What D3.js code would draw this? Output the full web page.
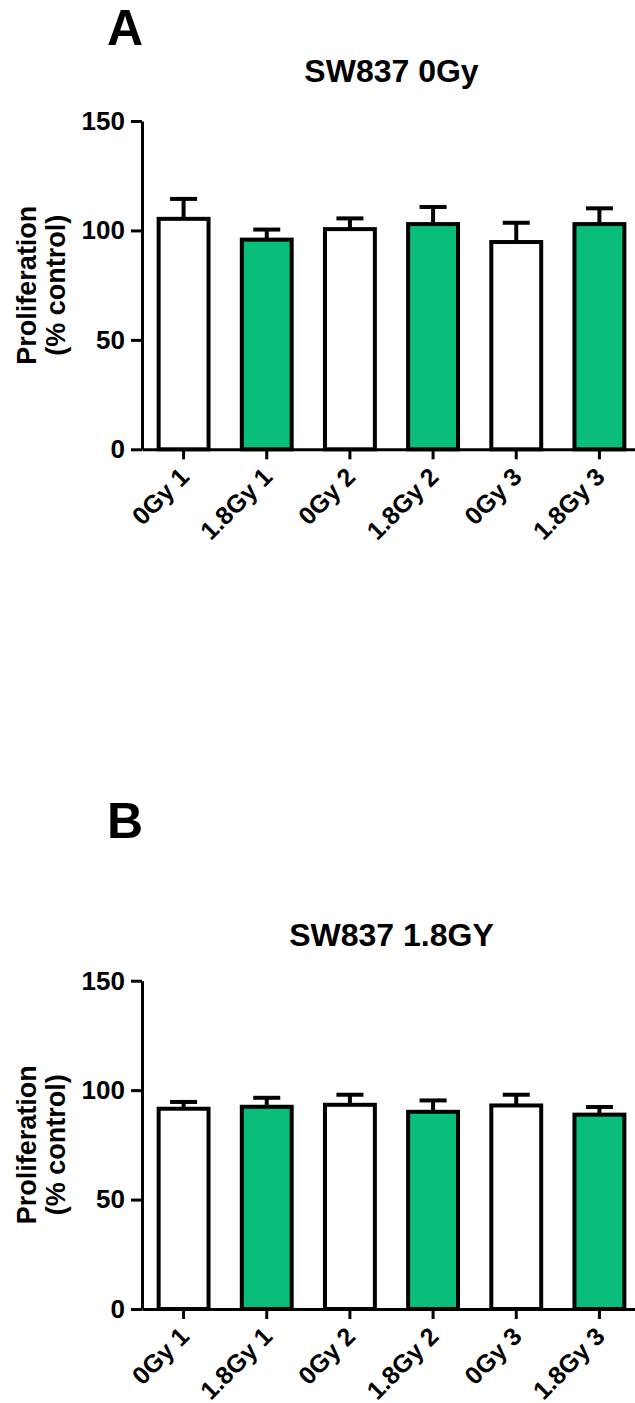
<!DOCTYPE html>
<html>
<head>
<meta charset="utf-8">
<script src="https://cdn.jsdelivr.net/npm/d3@7"></script>
<style>
  body { margin: 0; background: #fff; }
  text { font-family: "Liberation Sans", Arial, sans-serif; font-weight: bold; fill: #000; }
</style>
</head>
<body>
<div class="chart"></div>
<script>
var categories = ["0Gy 1", "1.8Gy 1", "0Gy 2", "1.8Gy 2", "0Gy 3", "1.8Gy 3"];
var fills = ["#ffffff", "#08be7a", "#ffffff", "#08be7a", "#ffffff", "#08be7a"];
var yTicks = [0, 50, 100, 150];

var meansA = [105.3, 95.8, 100.6, 102.9, 94.7, 102.9];
var errorsA = [9.1, 4.6, 4.9, 7.8, 8.8, 7.2];

var meansB = [91.5, 92.4, 93.3, 90.1, 93.0, 88.8];
var errorsB = [3.1, 4.1, 4.6, 5.2, 4.9, 3.5];

var width = 635, height = 1403;
var left = 142, right = 641;

var svg = d3.select('div.chart').append('svg')
    .attr('width', width)
    .attr('height', height);

function drawPanel(opts) {
  var top = opts.top, bottom = opts.top + 328.3;

  var xScale = d3.scaleBand()
      .domain(categories)
      .range([left, right])
      .paddingInner(0.4)
      .paddingOuter(0.2);
  var yScale = d3.scaleLinear()
      .domain([0, 150])
      .range([bottom, top]);

  var g = svg.append('g');

  // panel letter and title
  g.append('text')
    .attr('x', 107)
    .attr('y', opts.letterY)
    .style('font-size', '50px')
    .text(opts.letter);
  g.append('text')
    .attr('x', (left + right) / 2)
    .attr('y', opts.titleY)
    .attr('text-anchor', 'middle')
    .style('font-size', '32px')
    .text(opts.title);

  // bars
  var data = categories.map(function (c, i) {
    return {cat: c, mean: opts.means[i], err: opts.errors[i], fill: fills[i]};
  });

  g.selectAll('rect.bar')
    .data(data)
    .enter()
    .append('rect')
    .attr('class', 'bar')
    .attr('x', function (d) { return xScale(d.cat); })
    .attr('y', function (d) { return yScale(d.mean); })
    .attr('width', xScale.bandwidth())
    .attr('height', function (d) { return yScale(0) - yScale(d.mean); })
    .attr('fill', function (d) { return d.fill; })
    .attr('stroke', '#000')
    .attr('stroke-width', 4);

  // error bars (upper only)
  var capHalf = 13.5;
  g.selectAll('line.err')
    .data(data)
    .enter()
    .append('line')
    .attr('class', 'err')
    .attr('x1', function (d) { return xScale(d.cat) + xScale.bandwidth() / 2; })
    .attr('x2', function (d) { return xScale(d.cat) + xScale.bandwidth() / 2; })
    .attr('y1', function (d) { return yScale(d.mean); })
    .attr('y2', function (d) { return yScale(d.mean + d.err); })
    .attr('stroke', '#000')
    .attr('stroke-width', 4);
  g.selectAll('line.cap')
    .data(data)
    .enter()
    .append('line')
    .attr('class', 'cap')
    .attr('x1', function (d) { return xScale(d.cat) + xScale.bandwidth() / 2 - capHalf; })
    .attr('x2', function (d) { return xScale(d.cat) + xScale.bandwidth() / 2 + capHalf; })
    .attr('y1', function (d) { return yScale(d.mean + d.err); })
    .attr('y2', function (d) { return yScale(d.mean + d.err); })
    .attr('stroke', '#000')
    .attr('stroke-width', 4);

  // axes
  var yAxis = d3.axisLeft(yScale)
      .tickValues(yTicks)
      .tickSize(11)
      .tickSizeOuter(0)
      .tickPadding(6);
  var yg = g.append('g')
      .attr('transform', 'translate(' + left + ',0)')
      .call(yAxis);

  var xAxis = d3.axisBottom(xScale)
      .tickSize(10)
      .tickSizeOuter(0);
  var xg = g.append('g')
      .attr('transform', 'translate(0,' + bottom + ')')
      .call(xAxis);

  [yg, xg].forEach(function (ax) {
    ax.select('.domain').attr('stroke', '#000').attr('stroke-width', 3);
    ax.selectAll('.tick line').attr('stroke', '#000').attr('stroke-width', 3);
    ax.selectAll('text').attr('fill', '#000');
  });
  yg.selectAll('.tick text')
    .style('font-size', '26px')
    .style('font-family', '"Liberation Sans", Arial, sans-serif')
    .style('font-weight', 'bold');
  xg.selectAll('.tick text')
    .style('font-size', '25px')
    .style('font-family', '"Liberation Sans", Arial, sans-serif')
    .style('font-weight', 'bold')
    .attr('text-anchor', 'end')
    .attr('dy', null)
    .attr('y', null)
    .attr('transform', 'translate(7,29) rotate(-45)');

  // y label
  var cy = (top + bottom) / 2;
  var yl = g.append('text')
      .attr('transform', 'translate(0,' + cy + ') rotate(-90)')
      .attr('text-anchor', 'middle')
      .style('font-size', '27px');
  yl.append('tspan').attr('x', 0).attr('y', 36).text('Proliferation');
  yl.append('tspan').attr('x', 0).attr('y', 65).text('(% control)');
}

drawPanel({letter: 'A', letterY: 45, title: 'SW837 0Gy', titleY: 82, top: 121, means: meansA, errors: errorsA});
drawPanel({letter: 'B', letterY: 838, title: 'SW837 1.8GY', titleY: 946, top: 980.7, means: meansB, errors: errorsB});
</script>
</body>
</html>
